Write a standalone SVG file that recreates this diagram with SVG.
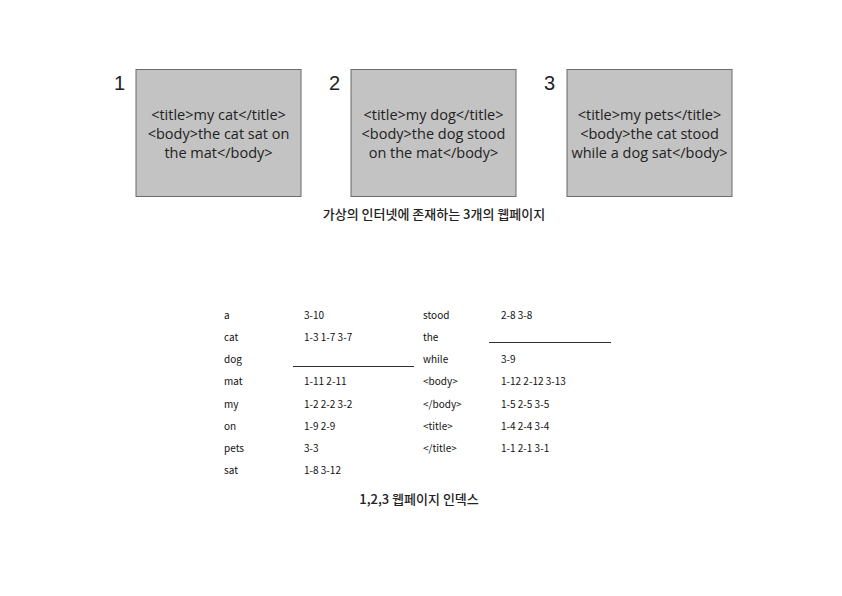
<svg xmlns="http://www.w3.org/2000/svg" width="842" height="596" viewBox="0 0 842 596">
<style>
.box{fill:#c3c3c3;stroke:#6b6b6b;stroke-width:1}
.num{font-family:"Liberation Sans",sans-serif;font-size:20px;fill:#222}
.bt{font-family:"Open Sans","Liberation Sans",sans-serif;font-size:14.5px;fill:#222;text-anchor:middle}
.cap{font-family:"Noto Sans CJK KR","Noto Sans",sans-serif;font-size:13px;font-weight:500;fill:#222;text-anchor:middle}
.tt{font-family:"Noto Sans CJK KR","Noto Sans",sans-serif;font-size:10px;fill:#111}
.ln{stroke:#333;stroke-width:1}
</style>
<rect width="842" height="596" fill="#fff"/>
<g id="page1">
<text class="num" x="114" y="90">1</text>
<rect class="box" x="136" y="69.500" width="165" height="127"/>
<text class="bt" x="218.500" y="120">&lt;title&gt;my cat&lt;/title&gt;</text>
<text class="bt" x="218.500" y="139">&lt;body&gt;the cat sat on</text>
<text class="bt" x="218.500" y="158">the mat&lt;/body&gt;</text>
</g>
<g id="page2">
<text class="num" x="329" y="90">2</text>
<rect class="box" x="351" y="69.500" width="165" height="127"/>
<text class="bt" x="433.500" y="120">&lt;title&gt;my dog&lt;/title&gt;</text>
<text class="bt" x="433.500" y="139">&lt;body&gt;the dog stood</text>
<text class="bt" x="433.500" y="158">on the mat&lt;/body&gt;</text>
</g>
<g id="page3">
<text class="num" x="544" y="90">3</text>
<rect class="box" x="567" y="69.500" width="165" height="127"/>
<text class="bt" x="649.500" y="120">&lt;title&gt;my pets&lt;/title&gt;</text>
<text class="bt" x="649.500" y="139">&lt;body&gt;the cat stood</text>
<text class="bt" x="649.500" y="158">while a dog sat&lt;/body&gt;</text>
</g>
<text class="cap" x="434" y="219">가상의 인터넷에 존재하는 3개의 웹페이지</text>
<g id="index">
<text class="tt" x="224" y="319">a</text><text class="tt" x="304" y="319">3-10</text>
<text class="tt" x="224" y="341">cat</text><text class="tt" x="304" y="341">1-3 1-7 3-7</text>
<text class="tt" x="224" y="363">dog</text>
<text class="tt" x="224" y="385">mat</text><text class="tt" x="304" y="385">1-11 2-11</text>
<text class="tt" x="224" y="408">my</text><text class="tt" x="304" y="408">1-2 2-2 3-2</text>
<text class="tt" x="224" y="430">on</text><text class="tt" x="304" y="430">1-9 2-9</text>
<text class="tt" x="224" y="452">pets</text><text class="tt" x="304" y="452">3-3</text>
<text class="tt" x="224" y="474">sat</text><text class="tt" x="304" y="474">1-8 3-12</text>
<text class="tt" x="423" y="319">stood</text><text class="tt" x="501" y="319">2-8 3-8</text>
<text class="tt" x="423" y="341">the</text>
<text class="tt" x="423" y="363">while</text><text class="tt" x="501" y="363">3-9</text>
<text class="tt" x="423" y="385">&lt;body&gt;</text><text class="tt" x="501" y="385">1-12 2-12 3-13</text>
<text class="tt" x="423" y="408">&lt;/body&gt;</text><text class="tt" x="501" y="408">1-5 2-5 3-5</text>
<text class="tt" x="423" y="430">&lt;title&gt;</text><text class="tt" x="501" y="430">1-4 2-4 3-4</text>
<text class="tt" x="423" y="452">&lt;/title&gt;</text><text class="tt" x="501" y="452">1-1 2-1 3-1</text>
<line class="ln" x1="293" y1="366.500" x2="414" y2="366.500"/>
<line class="ln" x1="489" y1="342.500" x2="611" y2="342.500"/>
</g>
<text class="cap" x="419" y="504">1,2,3 웹페이지 인덱스</text>
</svg>
